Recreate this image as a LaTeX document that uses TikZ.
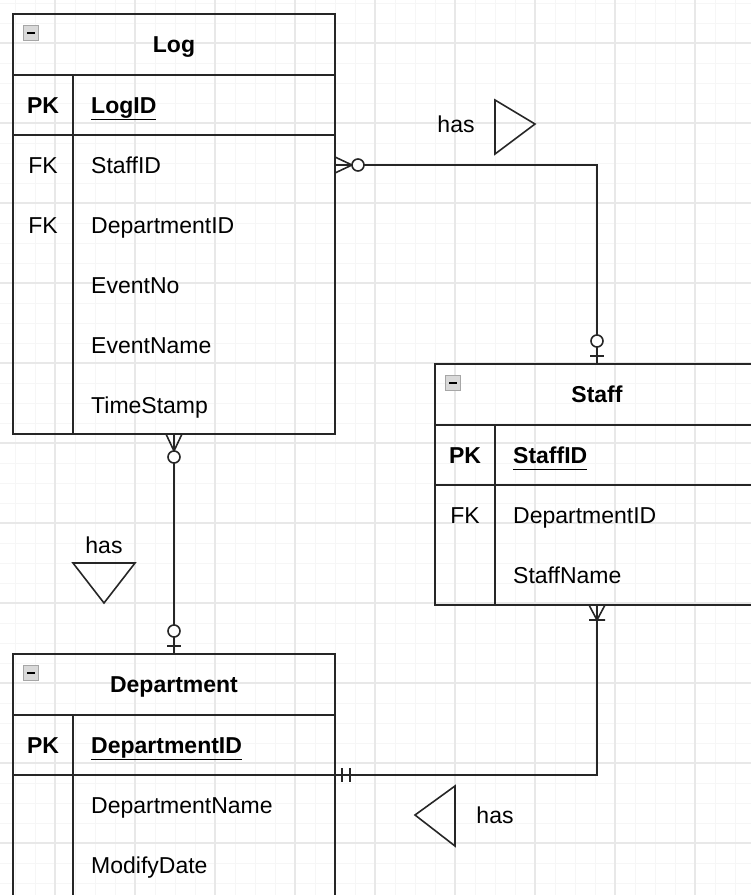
\documentclass[tikz,border=0pt]{standalone}
\usepackage{fontspec}
\setmainfont{Liberation Sans}
\usetikzlibrary{positioning}

\newcommand{\erfont}{\fontsize{23}{27}\selectfont}
\newcommand{\keyname}[1]{\underline{\vphantom{g}#1}}

\tikzset{
  tbl/.style={draw=black!85, line width=1.8pt, minimum width=322pt, inner sep=0pt, outer sep=0pt},
  tblhead/.style={tbl, minimum height=61pt, font=\erfont\bfseries, text height=16pt, text depth=0pt},
  pkrow/.style={tbl, minimum height=60pt},
  fldbox/.style={tbl},
  txt/.style={font=\erfont, text height=16pt, text depth=0pt, inner sep=0pt},
  keytxt/.style={txt, font=\erfont\bfseries},
  fld/.style={txt, anchor=west},
  collapse/.style={draw=gray!70, fill=gray!30, line width=0.8pt, minimum size=15pt, inner sep=0pt},
  conn/.style={draw=black!85, line width=1.6pt},
  hasmark/.style={draw=black!85, line width=1.6pt, line join=miter},
  gridminor/.style={draw=gray!7, line width=1pt},
  gridmajor/.style={draw=gray!18, line width=1.2pt},
  % crow's foot ends, drawn from the entity edge outwards along +x
  pics/zeromany/.style={code={
    \draw[conn] (0,-8) -- (17,0) -- (0,8) (0,0) -- (17,0);
    \draw[conn, fill=white] (23,0) circle (6pt);}},
  pics/zeroone/.style={code={
    \draw[conn] (8,-7) -- (8,7);
    \draw[conn, fill=white] (23,0) circle (6pt);}},
  pics/onemany/.style={code={
    \draw[conn] (0,-8) -- (15,0) -- (0,8) (0,0) -- (15,0) (15,-8) -- (15,8);}},
  pics/oneonly/.style={code={
    \draw[conn] (7,-7) -- (7,7) (15,-7) -- (15,7);}}
}

\begin{document}
\begin{tikzpicture}[x=1pt, y=-1pt]
  \useasboundingbox (0,0) rectangle (751,895);
  \clip (0,0) rectangle (751,895);

  % background grid
  \draw[gridminor, shift={(55,43)}, step=20pt] (-60,860) grid (720,-60);
  \draw[gridmajor, shift={(55,43)}, step=80pt] (-80,880) grid (720,-80);

  % Log
  \node[tblhead, anchor=north west] (log) at (13,14) {Log};
  \node[pkrow, below=0pt of log] (logpk) {};
  \node[fldbox, minimum height=299pt, below=0pt of logpk] (logflds) {};
  \draw[tbl] ([xshift=60pt]logpk.north west) -- ([xshift=60pt]logflds.south west);
  \node[collapse] at ([xshift=18pt, yshift=-19pt]log.north west) {\rule{8pt}{2pt}};
  \node[keytxt] at ([xshift=30pt]logpk.west) {PK};
  \node[keytxt, anchor=west] (logid) at ([xshift=78pt]logpk.west) {\keyname{LogID}};
  \foreach \f [count=\i from 0] in {StaffID, DepartmentID, EventNo, EventName, TimeStamp}
    \node[fld] (log\i) at ([xshift=78pt, yshift=-30pt-60pt*\i]logflds.north west) {\f};
  \foreach \i in {0,1}
    \node[txt] at ([xshift=30pt, yshift=-30pt-60pt*\i]logflds.north west) {FK};

  % Staff
  \node[tblhead, minimum width=324pt, anchor=north west] (staff) at (435,364) {Staff};
  \node[pkrow, minimum width=324pt, below=0pt of staff] (staffpk) {};
  \node[fldbox, minimum width=324pt, minimum height=120pt, below=0pt of staffpk] (staffflds) {};
  \draw[tbl] ([xshift=60pt]staffpk.north west) -- ([xshift=60pt]staffflds.south west);
  \node[collapse] at ([xshift=18pt, yshift=-19pt]staff.north west) {\rule{8pt}{2pt}};
  \node[keytxt] at ([xshift=30pt]staffpk.west) {PK};
  \node[keytxt, anchor=west] (staffid) at ([xshift=78pt]staffpk.west) {\keyname{StaffID}};
  \foreach \f [count=\i from 0] in {DepartmentID, StaffName}
    \node[fld] (staff\i) at ([xshift=78pt, yshift=-30pt-60pt*\i]staffflds.north west) {\f};
  \node[txt] at ([xshift=30pt, yshift=-30pt]staffflds.north west) {FK};

  % Department
  \node[tblhead, anchor=north west] (dept) at (13,654) {Department};
  \node[pkrow, below=0pt of dept] (deptpk) {};
  \node[fldbox, minimum height=130pt, below=0pt of deptpk] (deptflds) {};
  \draw[tbl] ([xshift=60pt]deptpk.north west) -- ([xshift=60pt]deptflds.south west);
  \node[collapse] at ([xshift=18pt, yshift=-19pt]dept.north west) {\rule{8pt}{2pt}};
  \node[keytxt] at ([xshift=30pt]deptpk.west) {PK};
  \node[keytxt, anchor=west] (deptid) at ([xshift=78pt]deptpk.west) {\keyname{DepartmentID}};
  \foreach \f [count=\i from 0] in {DepartmentName, ModifyDate}
    \node[fld] (dept\i) at ([xshift=78pt, yshift=-30pt-60pt*\i]deptflds.north west) {\f};

  % relationships
  \coordinate (logstaff) at (logflds.east |- log0);
  \draw[conn] (logstaff) -- (staff.north |- logstaff) -- (staff.north);
  \pic at (logstaff) {zeromany};
  \pic[rotate=90] at (staff.north) {zeroone};

  \draw[conn] (logflds.south) -- (dept.north);
  \pic[rotate=-90] at (logflds.south) {zeromany};
  \pic[rotate=90] at (dept.north) {zeroone};

  \draw[conn] (deptpk.south east) -- (staffflds.south |- deptpk.south east) -- (staffflds.south);
  \pic at (deptpk.south east) {oneonly};
  \pic[rotate=-90] at (staffflds.south) {onemany};

  % "has" markers
  \node[txt] (has1) at (456,124) {has};
  \draw[hasmark] (495,100) -- (535,124) -- (495,154) -- cycle;
  \node[txt] (has2) at (104,545) {has};
  \draw[hasmark] (73,563) -- (135,563) -- (104,603) -- cycle;
  \node[txt] (has3) at (495,815) {has};
  \draw[hasmark] (455,786) -- (415,815) -- (455,846) -- cycle;
\end{tikzpicture}
\end{document}
